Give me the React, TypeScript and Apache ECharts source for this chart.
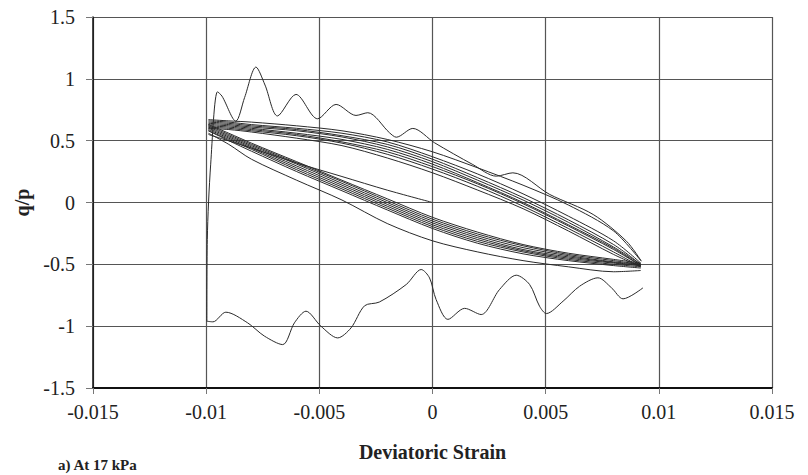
import React, { useEffect, useRef } from "react";
import * as echarts from "echarts";

// Strain grid shared by the repeated loop branches
const branchStrain = [-0.0099, -0.009, -0.008, -0.006, -0.004, -0.002, 0, 0.002, 0.004, 0.006, 0.008, 0.0092];

// Upper branches of the cycles (q/p at branchStrain)
const upperBranches: number[][] = [
  [0.67, 0.66, 0.65, 0.62, 0.58, 0.51, 0.41, 0.28, 0.14, -0.02, -0.23, -0.47],
  [0.66, 0.65, 0.63, 0.6, 0.56, 0.49, 0.37, 0.23, 0.07, -0.11, -0.31, -0.49],
  [0.65, 0.64, 0.62, 0.59, 0.54, 0.47, 0.35, 0.2, 0.04, -0.14, -0.34, -0.5],
  [0.64, 0.63, 0.61, 0.58, 0.53, 0.45, 0.33, 0.18, 0.02, -0.16, -0.36, -0.5],
  [0.63, 0.62, 0.6, 0.56, 0.51, 0.43, 0.31, 0.16, 0.0, -0.18, -0.37, -0.51],
  [0.62, 0.61, 0.59, 0.55, 0.49, 0.41, 0.29, 0.15, -0.01, -0.19, -0.38, -0.51],
  [0.61, 0.6, 0.58, 0.54, 0.48, 0.39, 0.27, 0.13, -0.03, -0.21, -0.4, -0.52],
  [0.6, 0.59, 0.57, 0.52, 0.46, 0.36, 0.24, 0.1, -0.05, -0.23, -0.42, -0.52],
];

// Lower branches of the cycles (q/p at branchStrain)
const lowerBranches: number[][] = [
  [0.63, 0.56, 0.48, 0.33, 0.18, 0.03, -0.12, -0.24, -0.34, -0.41, -0.46, -0.49],
  [0.62, 0.55, 0.47, 0.32, 0.17, 0.015, -0.135, -0.255, -0.35, -0.42, -0.47, -0.5],
  [0.61, 0.54, 0.46, 0.31, 0.155, 0.0, -0.15, -0.27, -0.365, -0.43, -0.48, -0.5],
  [0.6, 0.53, 0.45, 0.295, 0.14, -0.015, -0.165, -0.285, -0.38, -0.44, -0.485, -0.51],
  [0.59, 0.52, 0.44, 0.28, 0.125, -0.03, -0.18, -0.3, -0.39, -0.45, -0.49, -0.51],
  [0.58, 0.51, 0.43, 0.265, 0.11, -0.045, -0.195, -0.315, -0.4, -0.46, -0.5, -0.52],
  [0.58, 0.5, 0.415, 0.25, 0.095, -0.06, -0.21, -0.33, -0.415, -0.47, -0.51, -0.53],
  [0.56, 0.47, 0.35, 0.18, 0.02, -0.17, -0.31, -0.4, -0.47, -0.52, -0.56, -0.55],
];

// Last (incomplete) half cycle ending at the origin
const lastStrain = [-0.0099, -0.008, -0.006, -0.004, -0.002, 0];
const lastValues = [0.55, 0.44, 0.32, 0.21, 0.1, 0.0];

// Initial wavy lower trace [strain, q/p]
const lowerWave: [number, number][] = [
  [0.0093, -0.69], [0.00842, -0.779], [0.00791, -0.69], [0.00731, -0.609], [0.0065, -0.677],
  [0.00577, -0.798], [0.00503, -0.898], [0.00473, -0.839], [0.00429, -0.663], [0.0037, -0.588],
  [0.00296, -0.704], [0.00215, -0.906], [0.00142, -0.856], [0.00068, -0.945], [0.00016, -0.785],
  [-0.00013, -0.61], [-0.0005, -0.542], [-0.00116, -0.663], [-0.00235, -0.805], [-0.003, -0.835],
  [-0.0036, -1.014], [-0.00419, -1.095], [-0.00493, -1.0], [-0.00559, -0.879], [-0.0061, -0.973],
  [-0.00662, -1.149], [-0.00743, -1.08], [-0.00817, -0.973], [-0.00913, -0.887], [-0.0097, -0.965],
  [-0.00997, -0.96],
];

// Initial wavy upper trace [strain, q/p]
const upperWave: [number, number][] = [
  [-0.00997, -0.96], [-0.00995, -0.3], [-0.0098, 0.31], [-0.0095, 0.895], [-0.0093, 0.86],
  [-0.00869, 0.658], [-0.0083, 0.85], [-0.0078, 1.095], [-0.0074, 0.95], [-0.00685, 0.7],
  [-0.00603, 0.874], [-0.00508, 0.677], [-0.00426, 0.793], [-0.00338, 0.704], [-0.00286, 0.726],
  [-0.0019, 0.564], [-0.0016, 0.528], [-0.00087, 0.599], [0.00009, 0.483], [0.00178, 0.307],
  [0.00282, 0.213], [0.00355, 0.24], [0.00518, 0.065], [0.0071, -0.097], [0.00857, -0.313],
  [0.00923, -0.475],
];

const FONT = '"Liberation Serif", "Times New Roman", serif';
const LINE = "#2a2a2a";
const GRID = "#555";

export default function App() {
  const ref = useRef<HTMLDivElement>(null);
  useEffect(() => {
    if (!ref.current) return;
    const chart = echarts.init(ref.current, undefined, { renderer: "svg" });
    const lineSeries = (data: number[][]) => ({
      type: "line",
      data,
      showSymbol: false,
      smooth: 0.3,
      lineStyle: { color: LINE, width: 1 },
      silent: true,
    });
    const series: any[] = [];
    series.push(lineSeries(lowerWave));
    series.push(lineSeries(upperWave));
    upperBranches.forEach((b) => series.push(lineSeries(branchStrain.map((s, i) => [s, b[i]]))));
    lowerBranches.forEach((b) => series.push(lineSeries(branchStrain.map((s, i) => [s, b[i]]))));
    series.push(lineSeries(lastStrain.map((s, i) => [s, lastValues[i]])));

    chart.setOption({
      animation: false,
      grid: { left: 93, right: 36, top: 17, bottom: 87 },
      xAxis: {
        type: "value",
        min: -0.015,
        max: 0.015,
        interval: 0.005,
        name: "Deviatoric Strain",
        nameLocation: "middle",
        nameGap: 54,
        nameTextStyle: { fontFamily: FONT, fontWeight: "bold", fontSize: 20, color: "#222" },
        axisLine: { onZero: false, lineStyle: { color: "#111", width: 2 } },
        axisTick: { show: true, length: 6, lineStyle: { color: "#777" } },
        axisLabel: {
          margin: 14,
          fontFamily: FONT,
          fontSize: 20,
          color: "#222",
          formatter: (v: number) => String(Number(v.toFixed(3))),
        },
        splitLine: { show: true, lineStyle: { color: GRID, width: 1.2 } },
      },
      yAxis: {
        type: "value",
        min: -1.5,
        max: 1.5,
        interval: 0.5,
        name: "q/p",
        nameLocation: "middle",
        nameGap: 58,
        nameTextStyle: { fontFamily: FONT, fontWeight: "bold", fontSize: 20, color: "#222" },
        axisLine: { onZero: false, lineStyle: { color: "#111", width: 1.5 } },
        axisTick: { show: true, length: 7, lineStyle: { color: "#777" } },
        axisLabel: {
          margin: 18,
          fontFamily: FONT,
          fontSize: 20,
          color: "#222",
          formatter: (v: number) => String(Number(v.toFixed(2))),
        },
        splitLine: { show: true, lineStyle: { color: GRID, width: 1.2 } },
      },
      graphic: [
        {
          type: "text",
          left: 58,
          top: 457,
          style: { text: "a) At 17 kPa", font: 'bold 15px "Liberation Serif"', fill: "#222" },
        },
      ],
      series,
    });
    return () => chart.dispose();
  }, []);
  return (
    <div
      ref={ref}
      style={{ position: "fixed", left: 0, top: 0, width: 808, height: 475, background: "#fff" }}
    />
  );
}
